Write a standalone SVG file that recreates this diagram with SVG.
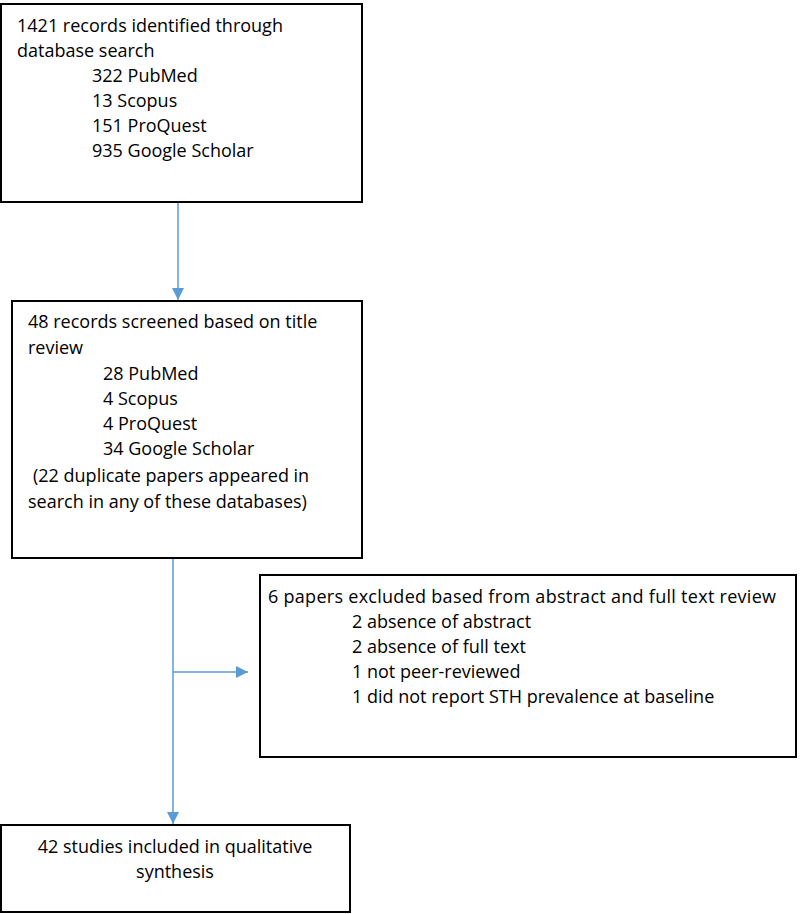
<svg xmlns="http://www.w3.org/2000/svg" width="800" height="914" viewBox="0 0 800 914">
<style>
.box{fill:#fff;stroke:#000;stroke-width:2}
.t{font-family:"Open Sans","Liberation Sans",Arial,sans-serif;font-size:18px;fill:#000}
.c{stroke:#5b9bd5;stroke-width:1.5;fill:none}
</style>
<defs>
<marker id="ah" viewBox="0 0 12 12" refX="12" refY="6" markerWidth="12" markerHeight="12" markerUnits="userSpaceOnUse" orient="auto">
<path d="M0,0 L12,6 L0,12 Z" fill="#5b9bd5"/>
</marker>
</defs>
<rect width="800" height="914" fill="#fff"/>
<g id="connectors">
<line class="c" x1="178" y1="202" x2="178" y2="300" marker-end="url(#ah)"/>
<line class="c" x1="173" y1="558" x2="173" y2="824" marker-end="url(#ah)"/>
<line class="c" x1="173" y1="672" x2="248" y2="672" marker-end="url(#ah)"/>
</g>
<g id="n1">
<rect class="box" x="1" y="4" width="361" height="198"/>
<text class="t" x="17" y="32">1421 records identified through</text>
<text class="t" x="17" y="57">database search</text>
<text class="t" x="92" y="82">322 PubMed</text>
<text class="t" x="92" y="107">13 Scopus</text>
<text class="t" x="92" y="132">151 ProQuest</text>
<text class="t" x="92" y="157">935 Google Scholar</text>
</g>
<g id="n2">
<rect class="box" x="12" y="301" width="350" height="257"/>
<text class="t" x="28" y="328">48 records screened based on title</text>
<text class="t" x="28" y="354">review</text>
<text class="t" x="103" y="380">28 PubMed</text>
<text class="t" x="103" y="405">4 Scopus</text>
<text class="t" x="103" y="430">4 ProQuest</text>
<text class="t" x="103" y="455">34 Google Scholar</text>
<text class="t" x="33" y="482">(22 duplicate papers appeared in</text>
<text class="t" x="28" y="508">search in any of these databases)</text>
</g>
<g id="n3">
<rect class="box" x="260" y="575" width="536" height="182"/>
<text class="t" x="268" y="603" textLength="508" lengthAdjust="spacing">6 papers excluded based from abstract and full text review</text>
<text class="t" x="352" y="628">2 absence of abstract</text>
<text class="t" x="352" y="653">2 absence of full text</text>
<text class="t" x="352" y="678">1 not peer-reviewed</text>
<text class="t" x="352" y="703">1 did not report STH prevalence at baseline</text>
</g>
<g id="n4">
<rect class="box" x="1" y="825" width="349" height="87"/>
<text class="t" x="175" y="853" text-anchor="middle">42 studies included in qualitative</text>
<text class="t" x="175" y="878" text-anchor="middle">synthesis</text>
</g>
</svg>
